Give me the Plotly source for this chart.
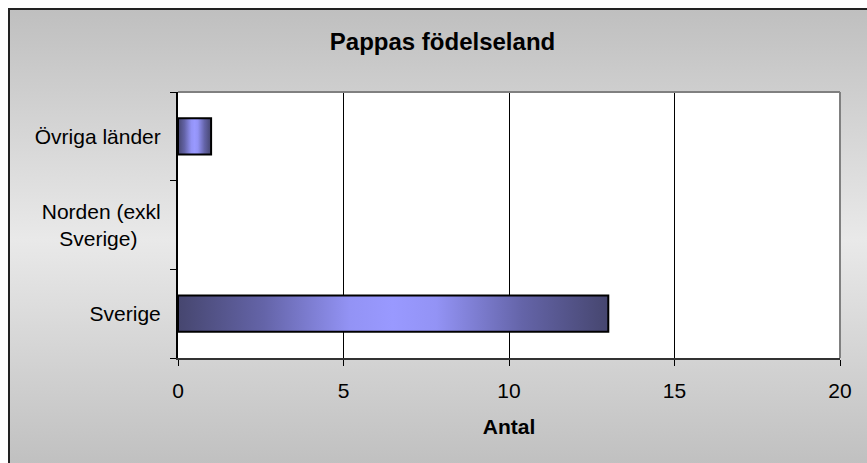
import base64
import plotly.graph_objects as go

# ---- data ----
categories = ["Sverige", "Norden (exkl<br>Sverige)\u00a0\u00a0\u00a0\u00a0", "Övriga länder"]
values = [13, 0, 1]
x_ticks = [0, 5, 10, 15, 20]
title_text = "Pappas födelseland"
x_title = "Antal"

W, H = 867, 463
L, R, T, B = 178, 27, 92, 105
pw, ph = W - L - R, H - T - B

positions = list(range(len(categories)))
half = 0.205

fig = go.Figure()

fig.add_trace(go.Bar(
    x=values, y=positions, orientation="h", width=2 * half,
    marker=dict(color="#9999ff", line=dict(color="black", width=0)),
    hoverinfo="x+y", showlegend=False,
))

grad = [[0, "#46466f"], [0.2, "#6464a8"], [0.4, "#9393f5"], [0.5, "#9999ff"],
        [0.6, "#9393f5"], [0.8, "#6464a8"], [1, "#46466f"]]
for p, v in zip(positions, values):
    if v == 0:
        continue
    fig.add_trace(go.Scatter(
        x=[0, v, v, 0, 0], y=[p - half, p - half, p + half, p + half, p - half],
        mode="lines", fill="toself",
        fillgradient=dict(type="horizontal", colorscale=grad),
        line=dict(color="black", width=2),
        hoverinfo="skip", showlegend=False,
    ))

# background gradient for the chart box
svg = ('<svg xmlns="http://www.w3.org/2000/svg" width="100" height="100" viewBox="0 0 100 100" '
       'preserveAspectRatio="none"><defs><linearGradient id="g" x1="0" y1="0" x2="0" y2="1">'
       '<stop offset="0" stop-color="#bfbfbf"/><stop offset="0.5" stop-color="#e9e9e9"/>'
       '<stop offset="1" stop-color="#bfbfbf"/></linearGradient></defs>'
       '<rect width="100" height="100" fill="url(#g)"/></svg>')
src = "data:image/svg+xml;base64," + base64.b64encode(svg.encode()).decode()

def px2x(px):
    return (px - L) / pw

def py2y(py):
    return (H - B - py) / ph

box_top = 9
box_bottom = 470
fig.add_layout_image(dict(
    source=src, xref="paper", yref="paper",
    x=px2x(9), y=py2y(box_top), sizex=(W + 10 - 9) / pw, sizey=(box_bottom - box_top) / ph,
    xanchor="left", yanchor="top", sizing="stretch", layer="below",
))

shapes = [
    dict(type="rect", xref="paper", yref="paper", x0=0, x1=1, y0=0, y1=1,
         line=dict(width=0), fillcolor="white", layer="below"),
    dict(type="rect", xref="paper", yref="paper",
         x0=px2x(9), x1=px2x(W + 10), y0=py2y(box_bottom), y1=py2y(box_top),
         line=dict(color="#222222", width=2), fillcolor="rgba(0,0,0,0)", layer="above"),
    dict(type="line", xref="paper", yref="paper", x0=0, x1=1, y0=1, y1=1,
         line=dict(color="#808080", width=2), layer="above"),
    dict(type="line", xref="paper", yref="paper", x0=1, x1=1, y0=0, y1=1,
         line=dict(color="#808080", width=2), layer="above"),
]

font_family = "Liberation Sans, Arial, sans-serif"

fig.update_layout(
    width=W, height=H, autosize=False,
    margin=dict(l=L, r=R, t=T, b=B, pad=0),
    paper_bgcolor="white", plot_bgcolor="white",
    font=dict(family=font_family, size=21, color="black"),
    title=dict(text="<b>" + title_text + "</b>", x=442.5 / W, xanchor="center",
               y=1 - 42 / H, yanchor="middle", font=dict(size=24, color="black")),
    shapes=shapes,
    bargap=0,
)

fig.update_xaxes(
    range=[0, 20], tickvals=x_ticks, ticktext=[str(t) for t in x_ticks],
    ticks="outside", ticklen=6, tickwidth=1, tickcolor="black",
    showgrid=True, gridcolor="black", gridwidth=1,
    showline=True, linecolor="#333333", linewidth=2, zeroline=False,
    tickfont=dict(size=21), ticklabelstandoff=7,
    title=dict(text="<b>" + x_title + "</b>", font=dict(size=21), standoff=18),
    fixedrange=True,
)
fig.update_yaxes(
    range=[-0.5, 2.5], tickvals=positions, ticktext=categories,
    ticks="", showgrid=False, zeroline=False,
    showline=True, linecolor="black", linewidth=2,
    minor=dict(tickvals=[-0.5, 0.5, 1.5, 2.5], ticks="outside", ticklen=6,
               tickwidth=1, tickcolor="black", showgrid=False),
    tickfont=dict(size=21), ticklabelstandoff=11,
    fixedrange=True,
)

fig.write_html(
    "out.html",
    config={"displayModeBar": False},
    post_script="document.body.style.margin='0';document.body.style.overflow='hidden';",
)
